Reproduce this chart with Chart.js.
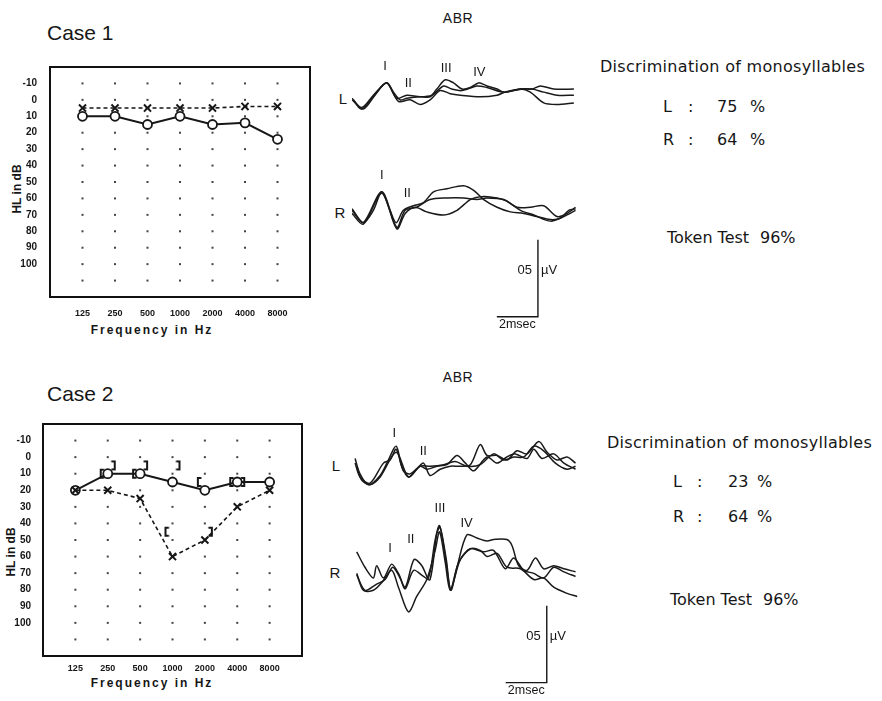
<!DOCTYPE html>
<html>
<head>
<meta charset="utf-8">
<title>Audiograms and ABR – Case 1 and Case 2</title>
<script src="https://cdn.jsdelivr.net/npm/chart.js@4.4.1/dist/chart.umd.min.js"></script>
<style>
  html, body { margin: 0; padding: 0; background: #fff; }
  body { position: relative; width: 882px; height: 701px; overflow: hidden; color: #161616;
         font-family: "Liberation Sans", Arial, sans-serif; }
  canvas { position: absolute; }
  .t { position: absolute; white-space: nowrap; line-height: 1; transform: translateY(-50%); }
  .c { transform: translate(-50%, -50%); }
  .case { font-size: 21px; }
  .abr { font-size: 14px; letter-spacing: 0.5px; }
  .ear { font-size: 15px; }
  .ax { font-weight: bold; font-size: 12px; letter-spacing: 2px; }
  .ay { font-weight: bold; font-size: 12px; transform: translate(-50%, -50%) rotate(-90deg); }
  .rt { font-family: "DejaVu Sans", sans-serif; font-size: 16px; }
  .disc { letter-spacing: 0.3px; }
</style>
</head>
<body>
<div class="t case" style="left:47px;top:31.5px">Case 1</div>
<div class="t case" style="left:47px;top:393px">Case 2</div>
<div class="t abr c" style="left:458px;top:18px">ABR</div>
<div class="t abr c" style="left:458px;top:377px">ABR</div>

<div class="t ay" style="left:17px;top:189px">HL in dB</div>
<div class="t ay" style="left:11px;top:552px">HL in dB</div>
<div class="t ax c" style="left:152px;top:330px">Frequency in Hz</div>
<div class="t ax c" style="left:152px;top:683px">Frequency in Hz</div>

<div class="t ear c" style="left:343px;top:98px">L</div>
<div class="t ear c" style="left:340px;top:212px">R</div>
<div class="t ear c" style="left:336px;top:465px">L</div>
<div class="t ear c" style="left:335px;top:572px">R</div>

<div id="speech"></div>

<script>
// ---------------- audiogram values (dB HL) ----------------
const frequencies = ['125', '250', '500', '1000', '2000', '4000', '8000'];
const hearingLevelTicks = [-10, 0, 10, 20, 30, 40, 50, 60, 70, 80, 90, 100];
const dotRows = [-10, 0, 10, 20, 30, 40, 50, 60, 70, 80, 90, 100, 110];

const case1RightAir = [10, 10, 15, 10, 15, 14, 24];   // O, solid
const case1LeftAir  = [5, 5, 5, 5, 5, 4, 4];          // X, dashed

const case2RightAir = [20, 10, 10, 15, 20, 15, 15];   // O, solid
const case2LeftAir  = [20, 20, 25, 60, 50, 30, 20];   // X, dashed
const case2OpenBracket  = [null, 10, 10, 45, 15, 15, null];  // "["
const case2CloseBracket = [null, 5, 5, 5, 45, 15, null];     // "]"

// ---------------- speech audiometry ----------------
const case1Discrimination = [75, 64];   // L, R (%)
const case2Discrimination = [23, 64];   // L, R (%)
const tokenTestScores = [96, 96];       // case 1, case 2 (%)

// ---------------- ABR traces: [latency ms, amplitude µV] ----------------
const abr1L_a = [[0.00,-0.02],[0.47,-0.08],[1.04,0.00],[1.69,0.08],[2.02,0.02],[2.34,-0.03],[2.67,-0.02],[3.32,-0.01],[3.80,-0.01],[4.13,0.04],[4.54,0.10],[4.94,0.08],[5.35,0.04],[5.76,0.05],[6.16,0.08],[6.57,0.06],[7.06,0.04],[7.38,0.02],[7.87,0.03],[8.36,0.04],[8.76,0.04],[9.17,0.06],[9.82,0.04],[10.80,0.04]];
const abr1L_b = [[0.00,-0.03],[0.55,-0.09],[1.12,0.00],[1.69,0.08],[2.18,-0.02],[2.67,0.00],[3.32,-0.01],[3.89,0.00],[4.46,0.06],[4.86,0.04],[5.35,0.03],[6.08,0.06],[6.57,0.05],[7.38,0.02],[8.20,0.04],[8.76,0.04],[9.33,0.02],[9.98,0.00],[10.80,0.00]];
const abr1L_c = [[0.07,-0.03],[0.47,-0.09],[1.20,0.02],[1.69,0.08],[2.26,-0.04],[2.83,-0.03],[3.32,-0.06],[3.80,-0.03],[4.29,0.03],[4.78,0.01],[5.27,0.00],[6.24,-0.01],[7.06,0.00],[7.46,0.02],[8.20,0.04],[8.68,0.02],[9.33,-0.05],[9.98,-0.06],[10.80,-0.05]];

const abr1R_a = [[0.00,-0.01],[0.55,-0.10],[1.04,-0.02],[1.45,0.10],[1.85,-0.02],[2.15,-0.10],[2.50,-0.02],[2.99,0.01],[3.48,0.03],[3.97,0.10],[4.62,0.12],[5.43,0.14],[5.92,0.11],[6.41,0.05],[7.06,0.00],[7.71,-0.03],[8.36,-0.04],[9.00,-0.06],[9.66,-0.08],[10.15,-0.07],[10.55,-0.02],[10.88,-0.01]];
const abr1R_b = [[0.00,-0.02],[0.55,-0.10],[1.45,0.10],[2.18,-0.13],[2.59,-0.02],[3.15,0.00],[3.80,0.05],[4.62,0.06],[5.43,0.06],[6.08,0.05],[6.57,0.06],[7.38,0.05],[8.03,0.00],[8.68,0.00],[9.33,0.01],[9.98,-0.06],[10.47,-0.04],[10.88,0.00]];
const abr1R_c = [[0.00,-0.04],[0.55,-0.11],[1.45,0.09],[2.18,-0.14],[2.59,-0.04],[3.07,0.00],[3.64,-0.03],[4.46,-0.05],[5.11,-0.02],[5.76,0.05],[6.41,0.07],[7.06,0.06],[7.54,0.04],[8.20,-0.02],[8.85,-0.05],[9.66,-0.09],[10.31,-0.06],[10.88,-0.02]];

const abr2L_a = [[0.15,0.05],[0.39,-0.05],[0.80,-0.12],[1.37,-0.06],[1.77,0.04],[2.15,0.13],[2.42,0.00],[2.75,-0.07],[3.15,-0.02],[3.48,0.02],[3.80,-0.06],[4.29,-0.02],[4.78,0.00],[5.27,0.00],[5.76,0.01],[6.24,0.14],[6.57,0.07],[7.06,0.07],[7.54,0.04],[8.03,0.10],[8.52,0.08],[9.09,0.16],[9.50,0.09],[9.98,0.04],[10.47,0.06],[10.88,0.02]];
const abr2L_b = [[0.15,0.02],[0.39,-0.07],[0.88,-0.11],[1.53,0.02],[1.85,0.04],[2.15,0.11],[2.50,-0.03],[2.83,-0.05],[3.32,0.00],[3.64,-0.02],[4.13,0.00],[4.62,0.01],[5.11,0.07],[5.52,0.02],[5.93,-0.03],[6.57,0.06],[7.06,0.02],[7.54,0.06],[7.95,0.08],[8.52,0.05],[8.85,0.11],[9.25,0.05],[9.82,0.08],[10.31,0.02],[10.88,-0.02]];
const abr2L_c = [[0.23,0.00],[0.47,-0.09],[0.88,-0.12],[1.37,-0.07],[2.15,0.09],[2.75,-0.07],[3.32,0.00],[3.80,0.00],[4.46,0.01],[5.02,0.03],[5.59,0.00],[6.24,0.01],[6.89,0.08],[7.38,0.04],[7.87,0.06],[8.36,0.06],[8.85,0.13],[9.33,0.10],[9.90,0.02],[10.47,-0.02],[10.88,0.00]];

const abr2R_a = [[0.23,0.15],[0.63,0.05],[1.04,-0.02],[1.20,0.06],[1.53,-0.02],[1.93,0.07],[2.26,0.01],[2.59,-0.08],[3.02,0.10],[3.40,0.06],[3.72,-0.02],[4.05,0.23],[4.26,0.32],[4.54,0.12],[4.81,-0.10],[5.11,0.05],[5.59,0.26],[6.08,0.24],[6.57,0.22],[6.89,0.23],[7.54,0.23],[7.79,0.19],[8.11,0.06],[8.52,0.03],[8.93,0.11],[9.33,0.04],[9.82,0.06],[10.31,0.04],[10.88,0.02]];
const abr2R_b = [[0.23,0.01],[0.55,-0.10],[1.04,-0.10],[1.45,-0.05],[1.93,0.03],[2.26,-0.08],[2.75,-0.24],[3.15,-0.14],[3.64,-0.03],[4.05,0.16],[4.26,0.28],[4.54,0.08],[4.78,-0.10],[5.19,0.08],[5.76,0.17],[6.24,0.16],[6.57,0.12],[7.06,0.14],[7.54,0.05],[8.20,0.04],[8.85,-0.03],[9.33,-0.02],[9.82,-0.08],[10.47,-0.12],[10.96,-0.14]];
const abr2R_c = [[0.23,0.00],[0.63,-0.10],[1.20,-0.06],[1.61,-0.03],[1.98,0.05],[2.34,-0.02],[2.59,-0.09],[3.00,0.03],[3.48,-0.01],[3.80,-0.03],[4.13,0.27],[4.29,0.31],[4.59,0.10],[4.81,-0.09],[5.27,0.10],[5.76,0.17],[6.41,0.15],[6.89,0.16],[7.46,0.04],[7.87,0.11],[8.36,0.03],[8.85,0.01],[9.33,-0.02],[9.82,0.05],[10.31,0.02],[10.88,-0.01]];

// wave labels: [name, latency ms, amplitude µV where the label sits]
const abr1LPeaks = [['I', 1.61, 0.184], ['II', 2.74, 0.076], ['III', 4.58, 0.173], ['IV', 6.20, 0.147]];
const abr1RPeaks = [['I', 1.45, 0.208], ['II', 2.69, 0.089]];
const abr2LPeaks = [['I', 2.06, 0.214], ['II', 3.47, 0.093]];
const abr2RPeaks = [['I', 1.85, 0.175], ['II', 2.86, 0.234], ['III', 4.28, 0.435], ['IV', 5.58, 0.338]];

// calibration bars: corner at (ms, µV), 2 ms wide, 0.5 µV tall
const calibration1 = [9.05, -0.71, 2, 0.5];
const calibration2 = [9.48, -0.70, 2, 0.5];

// ---------------- drawing ----------------
const INK = '#161616';
const SANS = '"Liberation Sans", Arial, sans-serif';
Chart.defaults.color = INK;

function place(left, top, width, height) {
  const cv = document.createElement('canvas');
  cv.width = Math.round(width);
  cv.height = Math.round(height);
  cv.style.left = Math.round(left) + 'px';
  cv.style.top = Math.round(top) + 'px';
  cv.style.width = cv.width + 'px';
  cv.style.height = cv.height + 'px';
  document.body.appendChild(cv);
  return cv;
}

// dotted grid at every frequency / 10 dB step, plus the heavy frame
const audiogramGrid = {
  id: 'audiogramGrid',
  beforeDatasetsDraw(chart) {
    const { ctx, chartArea: a, scales: { x, y } } = chart;
    ctx.save();
    ctx.fillStyle = '#444';
    frequencies.forEach((_, i) => {
      const px = x.getPixelForValue(i);
      dotRows.forEach(db => {
        const py = y.getPixelForValue(db);
        ctx.fillRect(px - 1, py - 1, 2, 2);
      });
    });
    ctx.strokeStyle = '#111';
    ctx.lineWidth = 2;
    ctx.strokeRect(a.left, a.top, a.width, a.height);
    ctx.restore();
  }
};

// bracket glyphs for masked bone conduction, drawn beside the frequency
function bracketGlyph(open) {
  const c = document.createElement('canvas');
  c.width = 22; c.height = 14;
  const g = c.getContext('2d');
  g.strokeStyle = INK;
  g.lineWidth = 2;
  const x = open ? 4 : 18;
  const d = open ? 3.5 : -3.5;
  g.beginPath();
  g.moveTo(x + d, 3); g.lineTo(x, 3); g.lineTo(x, 11); g.lineTo(x + d, 11);
  g.stroke();
  return c;
}

function toPoints(values) {
  return values.map((v, i) => (v == null ? null : { x: i, y: v })).filter(Boolean);
}

function rightEar(values) {
  return { data: toPoints(values), borderColor: INK, borderWidth: 2, tension: 0,
           pointStyle: 'circle', pointRadius: 4.5, pointBorderWidth: 1.8,
           pointBorderColor: INK, pointBackgroundColor: '#fff' };
}
function leftEar(values) {
  return { data: toPoints(values), borderColor: INK, borderWidth: 1.6, borderDash: [4, 3], tension: 0,
           pointStyle: 'crossRot', pointRadius: 5, pointBorderWidth: 2, pointBorderColor: INK };
}
function brackets(values, open) {
  return { data: toPoints(values), showLine: false, pointStyle: bracketGlyph(open), pointRadius: 7 };
}

function audiogram(area, xPad, yPad, datasets) {
  const cv = place(area.left - 50, area.top - 7, area.width + 70, area.height + 60);
  const tickFont = { family: SANS, weight: 'bold', size: 10 };
  return new Chart(cv, {
    type: 'line',
    data: { datasets },
    options: {
      responsive: false, animation: false, events: [],
      layout: { padding: { top: 7, right: 20, left: 0, bottom: 0 } },
      plugins: { legend: { display: false }, tooltip: { enabled: false } },
      scales: {
        x: {
          type: 'linear', min: -1, max: 7,
          grid: { display: false, drawTicks: false }, border: { display: false },
          afterBuildTicks: s => { s.ticks = frequencies.map((_, i) => ({ value: i })); },
          afterFit: s => { s.height = 53; s.paddingLeft = 0; s.paddingRight = 0; },
          ticks: { padding: xPad, font: { ...tickFont, size: 9 }, color: INK, autoSkip: false, maxRotation: 0,
                   callback: v => frequencies[v] }
        },
        y: {
          type: 'linear', reverse: true, min: -20, max: 120,
          grid: { display: false, drawTicks: false }, border: { display: false },
          afterBuildTicks: s => { s.ticks = hearingLevelTicks.map(v => ({ value: v })); },
          afterFit: s => { s.width = 50; s.paddingTop = 0; s.paddingBottom = 0; },
          ticks: { padding: yPad, font: tickFont, color: INK, callback: v => String(v) }
        }
      }
    },
    plugins: [audiogramGrid]
  });
}

const PX_PER_UV = 154;
const ABR_LEFT = 352, ABR_WIDTH = 226, ABR_MS = 11;

function abrOverlay(peaks, bar) {
  return {
    id: 'abrOverlay',
    afterDatasetsDraw(chart) {
      const { ctx, scales: { x, y } } = chart;
      ctx.save();
      ctx.fillStyle = INK;
      ctx.strokeStyle = INK;
      ctx.font = '13px ' + SANS;
      ctx.textAlign = 'center';
      ctx.textBaseline = 'middle';
      peaks.forEach(([name, t, v]) => ctx.fillText(name, x.getPixelForValue(t), y.getPixelForValue(v)));
      if (bar) {
        const [t, v, dt, dv] = bar;
        const x1 = x.getPixelForValue(t), y1 = y.getPixelForValue(v);
        const x0 = x.getPixelForValue(t - dt), y0 = y.getPixelForValue(v + dv);
        ctx.lineWidth = 1.4;
        ctx.beginPath();
        ctx.moveTo(x0, y1); ctx.lineTo(x1, y1); ctx.lineTo(x1, y0);
        ctx.stroke();
        const ym = y0 + 0.4 * (y1 - y0);
        ctx.textAlign = 'right';
        ctx.fillText('05', x1 - 6, ym);
        ctx.textAlign = 'left';
        ctx.fillText('\u00B5V', x1 + 3, ym);
        ctx.textAlign = 'center';
        ctx.font = '12.5px ' + SANS;
        ctx.fillText('2msec', (x0 + x1) / 2, y1 + 8);
      }
      ctx.restore();
    }
  };
}

function abrPanel(baseline, vMin, vMax, traces, peaks, bar) {
  const cv = place(ABR_LEFT, baseline - vMax * PX_PER_UV, ABR_WIDTH, (vMax - vMin) * PX_PER_UV);
  return new Chart(cv, {
    type: 'line',
    data: {
      datasets: traces.map(tr => ({
        data: tr.map(([t, v]) => ({ x: t, y: v })),
        borderColor: '#1a1a1a', borderWidth: 1.5, pointRadius: 0, tension: 0.3, fill: false
      }))
    },
    options: {
      responsive: false, animation: false, events: [],
      layout: { padding: 0 },
      plugins: { legend: { display: false }, tooltip: { enabled: false } },
      scales: {
        x: { type: 'linear', display: false, min: 0, max: ABR_MS },
        y: { type: 'linear', display: false, min: vMin, max: vMax }
      }
    },
    plugins: [abrOverlay(peaks, bar)]
  });
}

// Case 1
audiogram({ left: 50, top: 67, width: 260, height: 230 }, 11, 13, [
  leftEar(case1LeftAir),
  rightEar(case1RightAir)
]);
abrPanel(95, -0.2, 0.3, [abr1L_a, abr1L_b, abr1L_c], abr1LPeaks, null);
abrPanel(207, -0.9, 0.3, [abr1R_a, abr1R_b, abr1R_c], abr1RPeaks, calibration1);

// Case 2
audiogram({ left: 43, top: 423, width: 259, height: 233 }, 7, 12, [
  brackets(case2OpenBracket, true),
  brackets(case2CloseBracket, false),
  leftEar(case2LeftAir),
  rightEar(case2RightAir)
]);
abrPanel(466, -0.2, 0.3, [abr2L_a, abr2L_b, abr2L_c], abr2LPeaks, null);
abrPanel(575, -0.8, 0.5, [abr2R_a, abr2R_b, abr2R_c], abr2RPeaks, calibration2);

// speech audiometry text blocks
function speechBlock(left, discY, lineYs, cols, scores, token, tokenY, tokenCols) {
  const host = document.getElementById('speech');
  const add = (txt, x, y, cls) => {
    const d = document.createElement('div');
    d.className = 't rt' + (cls ? ' ' + cls : '');
    d.style.left = x + 'px';
    d.style.top = y + 'px';
    d.textContent = txt;
    host.appendChild(d);
  };
  add('Discrimination of monosyllables', left, discY, 'disc');
  ['L', 'R'].forEach((ear, k) => {
    add(ear, cols[0], lineYs[k]);
    add(':', cols[1], lineYs[k]);
    add(String(scores[k]), cols[2], lineYs[k]);
    add('%', cols[3], lineYs[k]);
  });
  add('Token Test', tokenCols[0], tokenY);
  add(token + '%', tokenCols[1], tokenY);
}
speechBlock(600, 66.5, [107, 140], [663, 688, 717, 750], case1Discrimination, tokenTestScores[0], 238, [667, 760]);
speechBlock(607, 443, [482, 517], [673, 697, 728, 757], case2Discrimination, tokenTestScores[1], 600, [670, 763]);
</script>
</body>
</html>
